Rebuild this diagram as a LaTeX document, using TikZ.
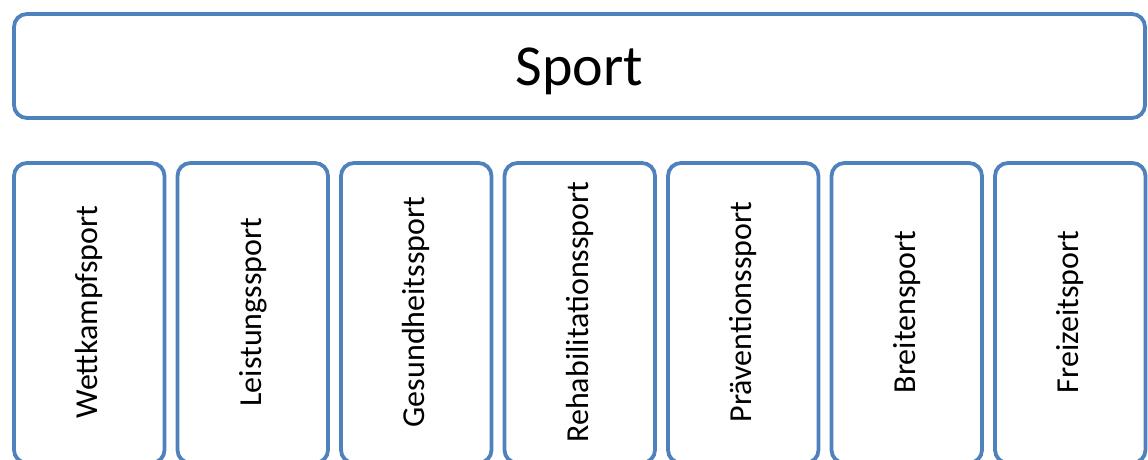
\documentclass[tikz,border=0pt]{standalone}
\usepackage{fontspec}
\setmainfont{Carlito}
\definecolor{boxblue}{HTML}{4F81BD}
\begin{document}
\begin{tikzpicture}[x=1pt,y=-1pt,
  box/.style={draw=boxblue,line width=3.8pt,rounded corners=13pt,inner sep=0pt},
  lbl/.style={font=\fontsize{32}{38}\selectfont,rotate=90,inner sep=0pt}]
\useasboundingbox (0,0) rectangle (1148,460);
\begin{scope}
\clip (0,0) rectangle (1148,460);
\draw[box] (14,14) rectangle (1145,118);
\node[font=\fontsize{58}{66}\selectfont,inner sep=0pt,anchor=base] (sport) at (579.5,85) {Sport};
\foreach \i/\t in {0/Wettkampfsport,1/Leistungssport,2/Gesundheitssport,3/Rehabilitationssport,4/Präventionssport,5/Breitensport,6/Freizeitsport}{
  \pgfmathsetmacro{\xl}{14+163.5*\i}
  \draw[box] (\xl,163) rectangle (\xl+150.5,463);
  \node[lbl] (b\i) at (\xl+75.25,312) {\t};
}
\end{scope}
\end{tikzpicture}
\end{document}
